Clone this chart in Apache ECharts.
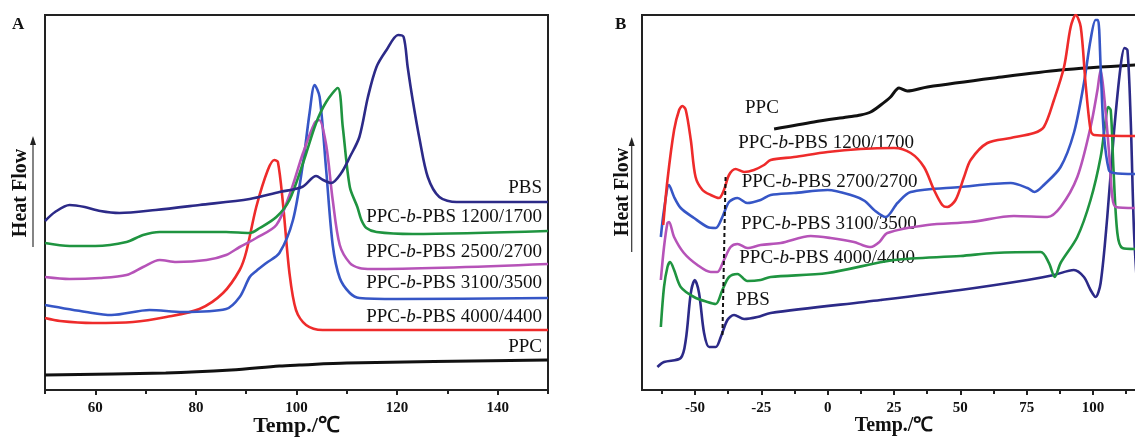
<!DOCTYPE html>
<html><head><meta charset="utf-8">
<script src="https://cdn.jsdelivr.net/npm/echarts@6/dist/echarts.min.js"></script>
<style>html,body{margin:0;padding:0;background:#fff}#c{width:1135px;height:437px}</style>
</head><body><div id="c"></div><script>
// ---------- Panel A data (Temp in °C, heat flow arbitrary units) ----------
const aMajorTicks = [60, 80, 100, 120, 140];
const aMinorTicks = [50, 70, 90, 110, 130, 150];
const aPBS = [[50,169],[52,178],[54.9,185],[57.9,183],[61,179],[64.8,177],[72,180],[80.7,185],[90.7,191],[96.6,198],[101.1,203],[103.9,214],[105.3,210],[106.9,207],[108.9,217],[110.6,233],[112.5,253],[114.2,293],[115.9,323],[117.9,340],[120.2,355],[121.3,353],[122.1,323],[123.1,290],[124.5,250],[126.1,213],[128.4,193],[131.8,188],[150,188]];
const a1200 = [[50,147],[54.9,144],[60,144],[66.2,148],[69.5,155],[72.8,158],[86,158],[90.7,157],[92.7,162],[96,173],[98.6,190],[101.3,227],[103.9,267],[105.9,288],[108.2,302],[109.2,263],[110.6,203],[112.1,183],[112.9,170],[113.9,162],[115.9,158],[123.1,156],[150,159]];
const a2500 = [[50,113],[54.9,111],[60.9,112],[66.2,115],[69.5,123],[72.8,130],[76.1,128],[82.1,130],[86,135],[88.7,143],[92,152],[96,165],[98.6,195],[101.3,237],[103.6,267],[104.5,270],[105.9,245],[107.2,190],[108.6,145],[110.6,127],[112.5,122],[115,121],[150,126]];
const a3100 = [[50,85],[58.2,78],[63.2,75],[70.8,80],[77.4,78],[86,81],[88.7,93],[90.7,113],[92,119],[94,127],[96.6,137],[99.3,170],[101.3,227],[102.6,277],[103.6,305],[104.6,293],[105.9,220],[107.2,145],[108.6,112],[110.6,97],[112.5,92],[120,91],[150,92]];
const a4000 = [[50,72],[53,69],[59.5,67],[67.5,68],[74.1,73],[80.7,81],[85.4,97],[88.7,120],[90,138],[92,183],[94.3,220],[95.6,230],[96.3,228],[97.3,187],[98.6,117],[99.9,80],[101.9,65],[105.2,60],[150,60]];
const aPPC = [[50,15],[74,17],[87,20],[96.6,24],[100.6,25],[110,27],[150,30]];

// ---------- Panel B data ----------
const bMajorTicks = [-50, -25, 0, 25, 50, 75, 100];
const bMinorTicks = [-62.5, -37.5, -12.5, 12.5, 37.5, 62.5, 87.5, 112.5];
const bPPC = [[-20.2,261],[-5.2,268],[7.4,273],[12.4,275],[16.2,278],[20,285],[23.7,293],[26.9,302],[30,299],[37.6,303],[62.7,312],[87.8,320],[116,325]];
const b1200 = [[-62,165],[-60.4,210],[-57.9,260],[-56,280],[-54.8,284],[-53.5,280],[-51.6,250],[-49.8,213],[-47.2,200],[-44.1,195],[-41,192],[-39.1,200],[-37.2,215],[-34.7,221],[-31.5,218],[-27.8,220],[-24,225],[-21.5,230],[-12.7,233],[0,238],[12.4,241],[25,242],[31.3,237],[36.3,223],[40.1,200],[43.2,185],[45.1,183],[48.2,190],[51.4,213],[53.9,230],[60.2,247],[69,252],[77.8,257],[81.5,263],[85.3,290],[89.1,323],[91.6,363],[93.5,375],[95.4,363],[97.2,307],[99.1,260],[100.4,255],[116,254]];
const b2700 = [[-62.9,153],[-61.7,180],[-59.8,205],[-57.9,193],[-55.4,182],[-50.4,172],[-45.3,163],[-42.2,162],[-39.7,173],[-37.2,188],[-34,192],[-30.3,187],[-25.3,190],[-21.5,195],[-12.7,197],[0,200],[9.9,194],[14,189],[17.5,180],[21.9,173],[26.3,187],[31.3,198],[50,203],[69,207],[75.3,202],[78,198],[81.5,205],[87.8,223],[92.8,257],[96.6,307],[99.1,350],[101,370],[101.9,370],[102.9,323],[104.1,257],[106,220],[107.9,217],[116,216]];
const b3100 = [[-62.9,110],[-61.7,143],[-60.4,167],[-59.8,168],[-57.9,153],[-54.2,137],[-49.1,125],[-44.1,118],[-41.6,118],[-39.1,130],[-36.6,143],[-34,146],[-30.3,142],[-25.3,145],[-17.7,147],[-6.4,154],[1.1,152],[9.9,148],[13,145],[16.2,143],[19.5,148],[22.5,157],[37.6,165],[53.9,168],[70.2,174],[82.8,173],[87.8,183],[94.1,213],[99.1,263],[101.7,300],[102.9,320],[104.1,297],[106,240],[107.3,193],[108.6,183],[116,182]];
const b4000 = [[-62.9,63],[-61.7,103],[-60.4,123],[-59.4,128],[-57.9,120],[-55.4,103],[-50.4,93],[-45.3,88],[-42.2,86],[-39.7,100],[-37.2,113],[-34,116],[-30.3,109],[-25.3,110],[-21.5,113],[0,117],[25,130],[50.1,134],[62.7,137],[80.3,138],[83.4,127],[85.6,113],[87.8,127],[94.1,153],[99.1,190],[102.9,233],[104.8,270],[105.7,283],[106.7,280],[107.7,223],[109.2,157],[111.1,142],[116,141]];
const bPBS = [[-64.2,23],[-61.7,28],[-55.4,32],[-53.5,50],[-51.6,97],[-50.1,110],[-48.5,97],[-46.6,57],[-44.7,43],[-42.2,43],[-40.3,53],[-37.8,70],[-35.3,75],[-31.5,71],[-26.5,73],[-21.5,77],[20,90],[50,100],[75.3,110],[85.3,115],[92.8,120],[96.6,113],[99.1,100],[101,93],[102.9,107],[105.4,173],[107.9,257],[110.4,323],[111.9,342],[113,340],[114.2,273],[115.5,157],[117,90]];
const bTgLine = [[-38.5,213],[-39.7,53]];

const aLabels = ['PBS', 'PPC-b-PBS 1200/1700', 'PPC-b-PBS 2500/2700', 'PPC-b-PBS 3100/3500', 'PPC-b-PBS 4000/4400', 'PPC'];
const bLabels = ['PPC', 'PPC-b-PBS 1200/1700', 'PPC-b-PBS 2700/2700', 'PPC-b-PBS 3100/3500', 'PPC-b-PBS 4000/4400', 'PBS'];

const SERIF = '"Liberation Serif","Times New Roman",serif';
const C = {red:'#ee2b2b', blue:'#3656c6', purple:'#b653b8', green:'#1f9440', navy:'#2c2a88', black:'#111111'};
const AX = '#222';

function xMain(gi, min, max, ticks, gap, nameSize) {
  return {type:'value', gridIndex:gi, position:'bottom', min:min, max:max,
    axisLine:{show:true, onZero:false, lineStyle:{color:AX, width:2}},
    axisTick:{show:true, customValues:ticks, length:5, inside:false, lineStyle:{color:AX, width:2}},
    axisLabel:{show:true, customValues:ticks, margin:11, color:'#111', fontFamily:SERIF, fontWeight:'bold', fontSize:15},
    splitLine:{show:false},
    name:'Temp./\u2103', nameLocation:'middle', nameGap:gap, nameMoveOverlap:false,
    nameTextStyle:{color:'#111', fontFamily:SERIF, fontWeight:'bold', fontSize:nameSize}};
}
function xMinor(gi, min, max, ticks) {
  return {type:'value', gridIndex:gi, position:'bottom', min:min, max:max,
    axisLine:{show:false, onZero:false}, axisTick:{show:true, customValues:ticks, length:4, lineStyle:{color:AX, width:2}},
    axisLabel:{show:false}, splitLine:{show:false}};
}
function yAx(gi) {
  return {type:'value', gridIndex:gi, position:'left', min:0, max:375,
    axisLine:{show:true, onZero:false, lineStyle:{color:AX, width:2}}, axisTick:{show:false}, axisLabel:{show:false}, splitLine:{show:false}};
}
function line(data, color, xi, yi, w) {
  return {type:'line', data:data, xAxisIndex:xi, yAxisIndex:yi, showSymbol:false, symbol:'none',
    smooth:0.3, lineStyle:{color:color, width:w||2.6}, itemStyle:{color:color}, silent:true};
}
function richText(s) {
  const p = s.split('-b-');
  if (p.length === 2) return '{n|' + p[0] + '-}{i|b}{n|-' + p[1] + '}';
  return '{n|' + s + '}';
}
function lab(s, x, y, align) {
  return {type:'text', x:x, y:y, silent:true, style:{text:richText(s), align:align, textAlign:align,
    verticalAlign:'middle', textVerticalAlign:'middle', fill:'#111',
    font:'19px ' + SERIF,
    rich:{n:{fontFamily:SERIF, fontSize:19, fill:'#111', color:'#111'}, i:{fontFamily:SERIF, fontSize:19, fontStyle:'italic', fill:'#111', color:'#111'}}}};
}
function vtext(s, x, y) {
  return {type:'text', x:x, y:y, rotation:Math.PI/2, silent:true,
    style:{text:s, align:'center', textAlign:'center', verticalAlign:'middle', textVerticalAlign:'middle',
      fill:'#111', font:'bold 20px ' + SERIF}};
}
function arrow(x, y1, y2) {
  return [
    {type:'line', silent:true, shape:{x1:x, y1:y1, x2:x, y2:y2+6}, style:{stroke:'#333', lineWidth:1.2}},
    {type:'polygon', silent:true, shape:{points:[[x, y2], [x-3, y2+9], [x+3, y2+9]]}, style:{fill:'#222'}}
  ];
}

const aLabY = [188, 217, 251.7, 283.3, 316.7, 346.7];
const bLabX = [745, 738.3, 741.7, 741, 739.3, 736];
const bLabY = [107.7, 143.3, 181.7, 224.3, 258.3, 300];

const graphics = [];
aLabels.forEach((s, i) => graphics.push(lab(s, 542, aLabY[i], 'right')));
bLabels.forEach((s, i) => graphics.push(lab(s, bLabX[i], bLabY[i], 'left')));
graphics.push(vtext('Heat Flow', 20.5, 193));
graphics.push(vtext('Heat Flow', 622.5, 192));
arrow(33, 247, 136).forEach(g => graphics.push(g));
arrow(631.7, 252, 137).forEach(g => graphics.push(g));
graphics.push({type:'text', x:12, y:25, silent:true, style:{text:'A', fill:'#111', font:'bold 17px ' + SERIF, verticalAlign:'middle', textVerticalAlign:'middle'}});
graphics.push({type:'text', x:615, y:25, silent:true, style:{text:'B', fill:'#111', font:'bold 17px ' + SERIF, verticalAlign:'middle', textVerticalAlign:'middle'}});

const chart = echarts.init(document.getElementById('c'), null, {renderer:'canvas'});
chart.setOption({
  animation:false,
  backgroundColor:'#ffffff',
  grid:[
    {left:45, top:15, width:503, height:375, show:true, borderColor:AX, borderWidth:2, backgroundColor:'transparent', containLabel:false, outerBoundsMode:'none'},
    {left:642, top:15, width:504, height:375, show:true, borderColor:AX, borderWidth:2, backgroundColor:'transparent', containLabel:false, outerBoundsMode:'none'}
  ],
  xAxis:[
    xMain(0, 50, 150, aMajorTicks, 25, 22),
    xMinor(0, 50, 150, aMinorTicks),
    xMain(1, -70, 120, bMajorTicks, 26, 20),
    xMinor(1, -70, 120, bMinorTicks)
  ],
  yAxis:[yAx(0), yAx(1)],
  series:[
    line(aPPC, C.black, 0, 0, 3),
    line(a4000, C.red, 0, 0),
    line(a3100, C.blue, 0, 0),
    line(a2500, C.purple, 0, 0),
    line(a1200, C.green, 0, 0),
    line(aPBS, C.navy, 0, 0),
    line(bPPC, C.black, 2, 1, 3),
    line(bPBS, C.navy, 2, 1),
    line(b4000, C.green, 2, 1),
    line(b3100, C.purple, 2, 1),
    line(b2700, C.blue, 2, 1),
    line(b1200, C.red, 2, 1),
    {type:'line', data:bTgLine, xAxisIndex:2, yAxisIndex:1, showSymbol:false, symbol:'none', silent:true,
      lineStyle:{color:'#111', width:2, type:[4,3]}}
  ],
  graphic:graphics
});
</script></body></html>
